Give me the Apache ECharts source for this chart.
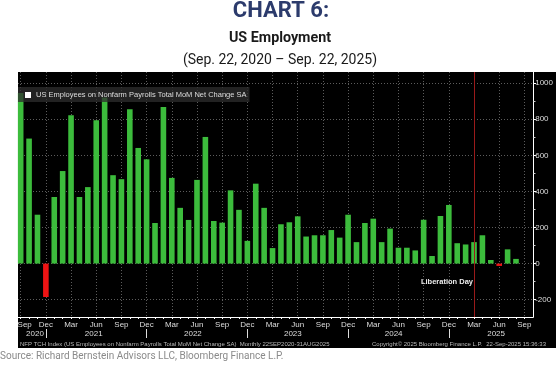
<!DOCTYPE html>
<html><head><meta charset="utf-8">
<script src="https://cdn.jsdelivr.net/npm/echarts@6/dist/echarts.min.js"></script>
<style>html,body{margin:0;padding:0;background:#fff}#c{width:556px;height:372px}</style>
</head><body><div id="c"></div>
<script>
// ---- data ----
const seriesName = 'US Employees on Nonfarm Payrolls Total MoM Net Change SA';
// monthly values, Sep 2020 .. Aug 2025 (thousands)
const values = [945, 693, 271, -185, 369, 513, 822, 369, 424, 794, 920, 490, 468, 855, 641,
                578, 225, 868, 475, 309, 242, 464, 702, 236, 227, 406, 298, 126, 443, 309,
                86, 218, 229, 262, 150, 157, 157, 186, 144, 271, 119, 225, 249, 119, 194,
                88, 88, 73, 243, 42, 264, 325, 113, 106, 119, 157, 20, -13, 79, 26];
// quarterly month tick labels, Sep 2020 .. Sep 2025
const tickLabels = ['Sep','Dec','Mar','Jun','Sep','Dec','Mar','Jun','Sep','Dec','Mar','Jun','Sep','Dec','Mar','Jun','Sep','Dec','Mar','Jun','Sep'];
const yearLabels = ['2020','2021','2022','2023','2024','2025'];
const yTickLabels = [-200, 0, 200, 400, 600, 800, 1000];
const eventLabel = 'Liberation Day';

// ---- layout ----
const X_MIN = -0.32, X_MAX = 61.05, Y_MIN = -296, Y_MAX = 1062;
const yearCenters = [1.7, 8.7, 20.5, 32.4, 44.4, 56.6];
const yearSeps = [3, 15, 27, 39, 51];
const quarterIdx = tickLabels.map((_, i) => i * 3);
const monthIdx = Array.from({length: 61}, (_, i) => i);
const yMinor = [-100, 100, 300, 500, 700, 900];
const eventX = 54;
const G = {left: 18, right: 22.5, top: 72, bottom: 55};
const FONT = 'Liberation Sans';
const dotted = {color: '#5c5c5c', type: [1, 2], width: 1};

const chart = echarts.init(document.getElementById('c'), null, {renderer: 'canvas'});
chart.setOption({
  animation: false,
  backgroundColor: '#fff',
  textStyle: {fontFamily: FONT},
  graphic: [{type: 'rect', z: -10, shape: {x: 18, y: 72, width: 538, height: 276}, style: {fill: '#000'}}],
  title: [
    {text: 'CHART 6:', left: 281, textAlign: 'center', top: 0, padding: 0,
     textStyle: {fontFamily: 'Roboto', fontWeight: 'bold', fontSize: 22, color: '#2c3b6c'}},
    {text: 'US Employment', left: 280, textAlign: 'center', top: 31, padding: 0,
     textStyle: {fontFamily: 'Roboto', fontWeight: 'bold', fontSize: 14.3, color: '#1a1a1a'}},
    {text: '(Sep. 22, 2020 – Sep. 22, 2025)', left: 280, textAlign: 'center', top: 53, padding: 0,
     textStyle: {fontFamily: 'Roboto', fontWeight: 'normal', fontSize: 14, color: '#1a1a1a'}},
    {text: 'NFP TCH Index (US Employees on Nonfarm Payrolls Total MoM Net Change SA)  Monthly 22SEP2020-31AUG2025', left: 20, top: 341, padding: 0,
     textStyle: {fontFamily: FONT, fontWeight: 'normal', fontSize: 6, color: '#bbb'}},
    {text: 'Copyright© 2025 Bloomberg Finance L.P.', left: 372, top: 341, padding: 0,
     textStyle: {fontFamily: FONT, fontWeight: 'normal', fontSize: 6, color: '#bbb'}},
    {text: '22-Sep-2025 15:36:33', right: 10, top: 341, padding: 0,
     textStyle: {fontFamily: FONT, fontWeight: 'normal', fontSize: 6, color: '#bbb'}},
    {text: 'Source: Richard Bernstein Advisors LLC, Bloomberg Finance L.P.', left: 0, top: 351, padding: 0,
     textStyle: {fontFamily: 'Roboto', fontWeight: 'normal', fontSize: 10, color: '#8a8a8a'}}
  ],
  legend: {
    left: 18, top: 87, padding: [4, 3, 3, 7], backgroundColor: 'rgba(45,45,45,0.75)',
    itemWidth: 6, itemHeight: 6, icon: 'rect', z: 10,
    textStyle: {color: '#ddd', fontSize: 7.5, fontFamily: FONT},
    data: [{name: seriesName, itemStyle: {color: '#fff'}}]
  },
  grid: [Object.assign({}, G), Object.assign({}, G), Object.assign({}, G)],
  xAxis: [
    {type: 'value', gridIndex: 0, min: X_MIN, max: X_MAX, position: 'bottom',
     axisLine: {show: true, onZero: false, lineStyle: {color: '#fff', width: 1}},
     axisTick: {show: false, customValues: quarterIdx},
     axisLabel: {customValues: quarterIdx, color: '#ddd', fontSize: 8, margin: 4,
       formatter: v => { const i = Math.round(v / 3); return i === 0 ? '{f|' + tickLabels[i] + '}' : tickLabels[i]; },
       rich: {f: {color: '#ddd', fontSize: 8, padding: [0, 0, 0, 8]}}},
     splitLine: {show: true, lineStyle: dotted}},
    {type: 'value', gridIndex: 1, min: X_MIN, max: X_MAX, position: 'bottom',
     axisLine: {show: false, onZero: false},
     axisTick: {show: true, customValues: monthIdx, length: 2, lineStyle: {color: '#fff'}},
     axisLabel: {show: false}, splitLine: {show: false}},
    {type: 'value', gridIndex: 2, min: X_MIN, max: X_MAX, position: 'bottom', offset: 12,
     axisLine: {show: false, onZero: false},
     axisTick: {show: true, customValues: yearSeps, length: 9, lineStyle: {color: '#ddd'}},
     axisLabel: {customValues: yearCenters, color: '#ddd', fontSize: 8, margin: 1,
       formatter: v => { let b = 0; yearCenters.forEach((c, i) => { if (Math.abs(c - v) < Math.abs(yearCenters[b] - v)) b = i; }); return yearLabels[b]; }},
     splitLine: {show: false}}
  ],
  yAxis: [
    {type: 'value', gridIndex: 0, min: Y_MIN, max: Y_MAX, position: 'right',
     axisLine: {show: true, onZero: false, lineStyle: {color: '#fff', width: 1}},
     axisTick: {show: true, customValues: yTickLabels, length: 3, lineStyle: {color: '#fff'}},
     axisLabel: {customValues: yTickLabels, color: '#ddd', fontSize: 8, margin: 2, formatter: v => String(v)},
     splitLine: {show: true, lineStyle: dotted}},
    {type: 'value', gridIndex: 1, min: Y_MIN, max: Y_MAX, position: 'right',
     axisLine: {show: false, onZero: false},
     axisTick: {show: true, customValues: yMinor, length: 2, lineStyle: {color: '#ccc'}},
     axisLabel: {show: false}, splitLine: {show: false}},
    {type: 'value', gridIndex: 2, min: Y_MIN, max: Y_MAX, show: false}
  ],
  series: [{
    type: 'bar', name: seriesName, xAxisIndex: 0, yAxisIndex: 0, barWidth: 5.6,
    data: values.map((v, i) => [i, v]),
    itemStyle: {color: p => (p.value[1] < 0 ? '#ee1414' : '#3cbc3c')},
    markLine: {silent: true, symbol: 'none', label: {show: false},
      lineStyle: {color: '#9a1a1a', width: 1, type: 'solid'},
      data: [{xAxis: eventX}]},
    markPoint: {silent: true, symbol: 'rect', symbolSize: 0,
      label: {show: true, formatter: eventLabel, position: 'left', distance: 1, color: '#eee', fontSize: 7.5, fontWeight: 'bold', fontFamily: FONT},
      data: [{coord: [eventX, -104]}]}
  }]
});
</script></body></html>
